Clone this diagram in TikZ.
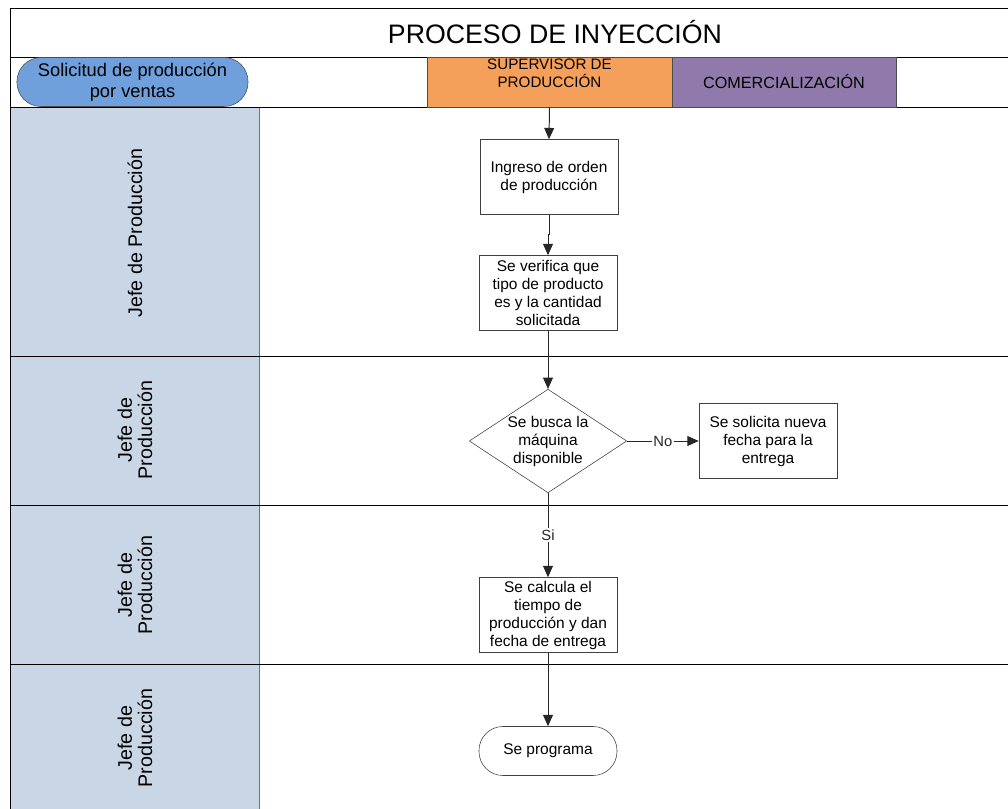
\documentclass[tikz,border=0pt]{standalone}
\usepackage{fontspec}
\setmainfont{Liberation Sans}
\usetikzlibrary{shapes.geometric,arrows.meta}

\definecolor{pillblue}{HTML}{6FA0DC}
\definecolor{suporange}{HTML}{F5A05A}
\definecolor{compurple}{HTML}{9079AB}
\definecolor{lanegray}{HTML}{C9D6E6}

\begin{document}
\begin{tikzpicture}[x=0.025cm, y=-0.025cm,
		flowbox/.style={draw=black!75, fill=white, minimum width=3.45cm, minimum height=1.875cm,
			align=center, inner sep=1pt, font=\fontsize{11}{12.8}\selectfont},
		hdrbox/.style={draw=black!70, minimum height=1.25cm, inner sep=0pt},
		arr/.style={-{Triangle[length=8pt,width=7pt]}, line width=0.7pt, black!85},
		lanetxt/.style={rotate=90, align=center, font=\fontsize{14}{14.5}\selectfont},
		small/.style={fill=white, inner sep=1pt, font=\fontsize{10.5}{12}\selectfont}]
		\useasboundingbox (0,0) rectangle (1008,809);
		\fill[lanegray] (10,107) rectangle (259,809);
		\draw[black!55] (259,107) -- (259,809);
		\draw
			(1008,8) -- (10,8) -- (10,809)
			(10,57) -- (1008,57)
			(10,107) -- (1008,107)
			(10,356) -- (1008,356)
			(10,505) -- (1008,505)
			(10,664) -- (1008,664)
		;
		\node[font=\fontsize{19}{22}\selectfont] (title) at (555,32) {PROCESO DE INYECCIÓN};
		\node[draw=black!70, fill=pillblue, rounded corners=0.6cm, minimum width=5.775cm,
			minimum height=1.225cm, align=center, inner sep=1pt,
			font=\fontsize{13}{15}\selectfont] (solic) at (132.5,82) {Solicitud de producción\\por ventas};
		\node[hdrbox, fill=suporange, minimum width=6.125cm] (sup) at (549.5,82) {};
		\node[align=center, font=\fontsize{10.8}{12.8}\selectfont] (suptxt) at (549.5,73) {SUPERVISOR DE\\PRODUCCIÓN};
		\node[hdrbox, fill=compurple, minimum width=5.6cm, font=\fontsize{11.5}{13}\selectfont] (comer) at (784,82) {COMERCIALIZACIÓN};
		\foreach \y/\t [count=\i] in {233/{Jefe de Producción}, 430/{Jefe de\\Producción},
			585/{Jefe de\\Producción}, 738/{Jefe de\\Producción}} {
			\node[lanetxt] (lane\i) at (135,\y) {\t};
		}
		\node[flowbox] (ingreso) at (549,177) {Ingreso de orden\\de producción};
		\node[flowbox] (verifica) at (548,293) {Se verifica que\\tipo de producto\\es y la cantidad\\solicitada};
		\node[diamond, draw=black!75, fill=white, aspect=1.52, inner sep=0pt, minimum width=3.85cm,
			minimum height=2.525cm, align=center, font=\fontsize{11}{12.8}\selectfont]
			(busca) at (548,441) {Se busca la\\máquina\\disponible};
		\node[flowbox] (nueva) at (768,441) {Se solicita nueva\\fecha para la\\entrega};
		\node[flowbox] (calcula) at (548,615) {Se calcula el\\tiempo de\\producción y dan\\fecha de entrega};
		\node[flowbox, rounded corners=0.6cm, minimum height=1.225cm] (programa) at (548,751) {Se programa};
		\draw[arr] (sup.south) -- (ingreso.north);
		\draw[arr] (ingreso.south) -- ++(0,20) -| (verifica.north);
		\draw[arr] (verifica) -- (busca);
		\draw[arr] (busca) -- node[small] (no) {No} (nueva);
		\draw[arr] (busca) -- node[small] (si) {Si} (calcula);
		\draw[arr] (calcula) -- (programa);
	\end{tikzpicture}
\end{document}
